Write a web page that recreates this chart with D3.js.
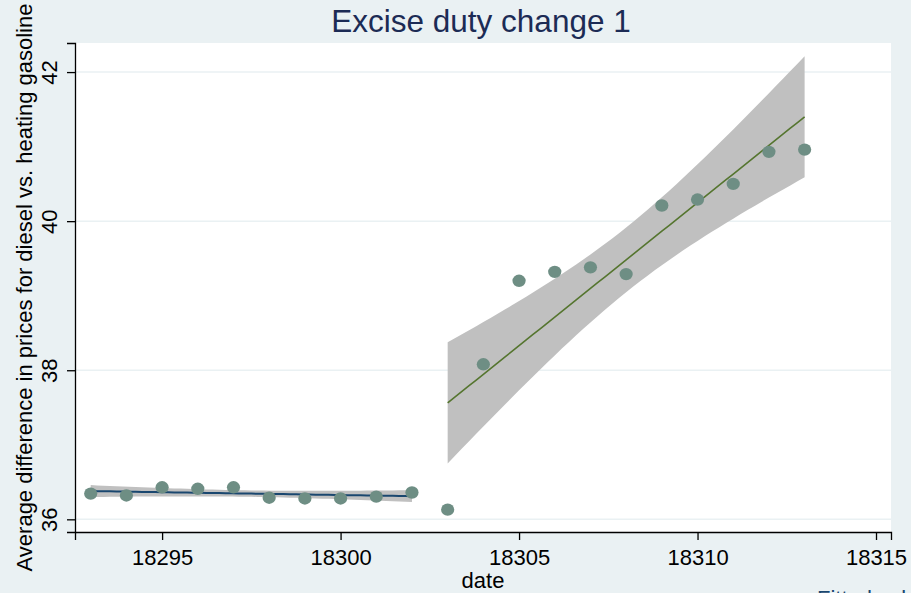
<!DOCTYPE html>
<html>
<head>
<meta charset="utf-8">
<script src="https://cdn.jsdelivr.net/npm/d3@7"></script>
<style>
  html, body { margin: 0; padding: 0; background: #eaf1f3; overflow: hidden; }
  text { font-family: "Liberation Sans", Arial, sans-serif; }
</style>
</head>
<body>
<div id="chart"></div>
<script>
// data
const beforeDates = [18293, 18294, 18295, 18296, 18297, 18298, 18299, 18300, 18301, 18302];
const beforeValues = [36.345, 36.32, 36.43, 36.41, 36.43, 36.29, 36.28, 36.28, 36.305, 36.36];
const afterDates = [18303, 18304, 18305, 18306, 18307, 18308, 18309, 18310, 18311, 18312, 18313];
const afterValues = [36.13, 38.08, 39.20, 39.32, 39.38, 39.29, 40.21, 40.29, 40.50, 40.93, 40.96];
const xTicks = [18295, 18300, 18305, 18310, 18315];
const yTicks = [36, 38, 40, 42];
// t(0.975, df) for the 95% band
const tCrit = { 8: 2.306, 9: 2.262 };

const width = 911, height = 593;
const margin = { top: 43, right: 20, bottom: 61, left: 75 };

const svg = d3.select('#chart')
    .append('svg')
    .attr('width', width)
    .attr('height', height);

svg.append('rect')
    .attr('width', width)
    .attr('height', height)
    .attr('fill', '#eaf1f3');

const x = d3.scaleLinear()
    .domain([18292.56, 18315.42])
    .range([margin.left, width - margin.right]);

const y = d3.scaleLinear()
    .domain([35.83, 42.39])
    .range([height - margin.bottom, margin.top]);

// plot region
svg.append('rect')
    .attr('x', margin.left)
    .attr('y', margin.top)
    .attr('width', width - margin.right - margin.left)
    .attr('height', height - margin.bottom - margin.top)
    .attr('fill', '#ffffff');

// grid lines
svg.append('g')
    .selectAll('line')
    .data(yTicks)
    .enter()
    .append('line')
    .attr('x1', margin.left)
    .attr('x2', width - margin.right)
    .attr('y1', d => y(d))
    .attr('y2', d => y(d))
    .attr('stroke', '#eaf1f3')
    .attr('stroke-width', 1.5);

// linear fit with 95% confidence band (like lfitci)
function linearFit(xs, ys) {
    const n = xs.length;
    const mx = d3.mean(xs), my = d3.mean(ys);
    const sxx = d3.sum(xs, v => (v - mx) * (v - mx));
    const sxy = d3.sum(xs.map((v, i) => (v - mx) * (ys[i] - my)));
    const b = sxy / sxx;
    const a = my - b * mx;
    const ssr = d3.sum(xs.map((v, i) => Math.pow(ys[i] - (a + b * v), 2)));
    const s = Math.sqrt(ssr / (n - 2));
    const t = tCrit[n - 2];
    const [lo, hi] = d3.extent(xs);
    const grid = d3.range(0, 51).map(k => lo + (hi - lo) * k / 50);
    return grid.map(g => {
        const fit = a + b * g;
        const se = s * Math.sqrt(1 / n + (g - mx) * (g - mx) / sxx);
        return { x: g, fit: fit, lo: fit - t * se, hi: fit + t * se };
    });
}

const fits = [
    { rows: linearFit(beforeDates, beforeValues), color: '#1a476f', w: 2 },
    { rows: linearFit(afterDates, afterValues), color: '#55752f', w: 1.6 }
];

const area = d3.area()
    .x(d => x(d.x))
    .y0(d => y(d.lo))
    .y1(d => y(d.hi));

const line = d3.line()
    .x(d => x(d.x))
    .y(d => y(d.fit));

fits.forEach(f => {
    svg.append('path')
        .attr('d', area(f.rows))
        .attr('fill', '#c0c0c0');
});
fits.forEach(f => {
    svg.append('path')
        .attr('d', line(f.rows))
        .attr('fill', 'none')
        .attr('stroke', f.color)
        .attr('stroke-width', f.w);
});

// scatter points
const points = beforeDates.map((d, i) => ({ date: d, value: beforeValues[i] }))
    .concat(afterDates.map((d, i) => ({ date: d, value: afterValues[i] })));

svg.append('g')
    .selectAll('ellipse')
    .data(points)
    .enter()
    .append('ellipse')
    .attr('cx', d => x(d.date))
    .attr('cy', d => y(d.value))
    .attr('rx', 6.6)
    .attr('ry', 6.2)
    .attr('fill', '#6e8e84');

// axes
const xAxis = svg.append('g')
    .attr('transform', `translate(0,${height - margin.bottom})`)
    .call(d3.axisBottom(x).tickValues(xTicks).tickSize(8).tickPadding(9).tickFormat(d3.format('d')));
xAxis.select('.domain').attr('stroke', '#000').attr('stroke-width', 1.3);
xAxis.selectAll('.tick line').attr('stroke', '#000').attr('stroke-width', 1.3);
xAxis.selectAll('.tick text')
    .attr('font-size', 22)
    .attr('fill', '#000')
    .attr('font-family', '"Liberation Sans", Arial, sans-serif');

const yAxis = svg.append('g')
    .attr('transform', `translate(${margin.left},0)`)
    .call(d3.axisLeft(y).tickValues(yTicks).tickSize(8).tickFormat(d3.format('d')));
yAxis.select('.domain').attr('stroke', '#000').attr('stroke-width', 1.3);
yAxis.selectAll('.tick line').attr('stroke', '#000').attr('stroke-width', 1.3);
yAxis.selectAll('.tick text')
    .attr('font-size', 22)
    .attr('fill', '#000')
    .attr('font-family', '"Liberation Sans", Arial, sans-serif')
    .attr('x', 0)
    .attr('dy', 0)
    .attr('text-anchor', 'middle')
    .attr('transform', 'translate(-18,0) rotate(-90)');

// titles
svg.append('text')
    .attr('x', 481)
    .attr('y', 32)
    .attr('text-anchor', 'middle')
    .attr('font-size', 31.5)
    .attr('fill', '#1c2b55')
    .text('Excise duty change 1');

svg.append('text')
    .attr('x', (margin.left + width - margin.right) / 2)
    .attr('y', 588)
    .attr('text-anchor', 'middle')
    .attr('font-size', 22)
    .attr('fill', '#000')
    .text('date');

svg.append('text')
    .attr('transform', `translate(32,${(margin.top + height - margin.bottom) / 2}) rotate(-90)`)
    .attr('text-anchor', 'middle')
    .attr('font-size', 22)
    .attr('fill', '#000')
    .text('Average difference in prices for diesel vs. heating gasoline');

// legend, almost entirely below the visible area
svg.append('text')
    .attr('x', 817)
    .attr('y', 606)
    .attr('font-size', 22)
    .attr('fill', '#1a476f')
    .text('Fitted values');
</script>
</body>
</html>
